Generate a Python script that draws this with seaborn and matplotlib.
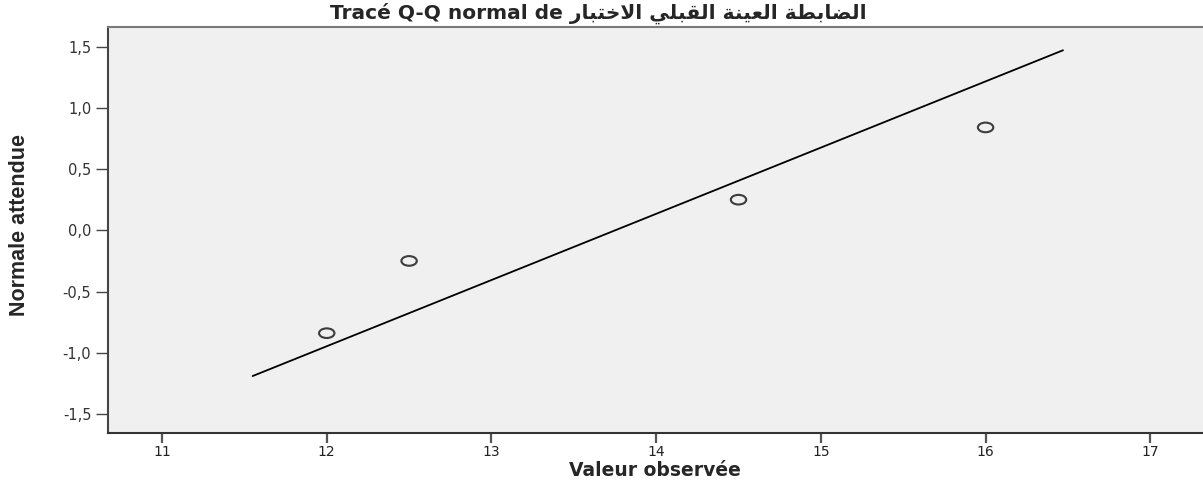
import matplotlib
matplotlib.use("Agg")
import matplotlib.pyplot as plt
from matplotlib.markers import MarkerStyle
from matplotlib.transforms import Affine2D
from matplotlib.ticker import FuncFormatter
import numpy as np
import pandas as pd
import seaborn as sns

# Q-Q data (observed value vs expected normal)
observed = [12.0, 12.5, 14.5, 16.0]
expected = [-0.84, -0.25, 0.25, 0.84]

# reference line end points
line_x = [11.55, 16.47]
line_y = [-1.19, 1.47]

x_ticks = [11, 12, 13, 14, 15, 16, 17]
y_ticks = [-1.5, -1.0, -0.5, 0.0, 0.5, 1.0, 1.5]

title_latin = "Tracé Q-Q normal de "
title_arabic = "الضابطة العينة القبلي الاختبار"
x_label = "Valeur observée"
y_label = "Normale attendue"

# isolated, final, initial, medial presentation forms
FORMS = {
    "ا": ("\uFE8D", "\uFE8E", None, None),
    "ل": ("\uFEDD", "\uFEDE", "\uFEDF", "\uFEE0"),
    "ض": ("\uFEBD", "\uFEBE", "\uFEBF", "\uFEC0"),
    "ب": ("\uFE8F", "\uFE90", "\uFE91", "\uFE92"),
    "ط": ("\uFEC1", "\uFEC2", "\uFEC3", "\uFEC4"),
    "ة": ("\uFE93", "\uFE94", None, None),
    "ع": ("\uFEC9", "\uFECA", "\uFECB", "\uFECC"),
    "ي": ("\uFEF1", "\uFEF2", "\uFEF3", "\uFEF4"),
    "ن": ("\uFEE5", "\uFEE6", "\uFEE7", "\uFEE8"),
    "ق": ("\uFED5", "\uFED6", "\uFED7", "\uFED8"),
    "خ": ("\uFEA5", "\uFEA6", "\uFEA7", "\uFEA8"),
    "ت": ("\uFE95", "\uFE96", "\uFE97", "\uFE98"),
    "ر": ("\uFEAD", "\uFEAE", None, None),
}


def shape_arabic(text: str) -> str:
    """Join letters and return them in visual (left-to-right) order"""
    out = []
    prev_joins = False
    i = 0
    while i < len(text):
        c = text[i]
        if c not in FORMS:
            out.append(c)
            prev_joins = False
            i += 1
            continue
        if c == "ل" and i + 1 < len(text) and text[i + 1] == "ا":
            out.append("\uFEFC" if prev_joins else "\uFEFB")
            prev_joins = False
            i += 2
            continue
        iso, fin, ini, med = FORMS[c]
        nxt = text[i + 1] if i + 1 < len(text) else None
        next_joins = ini is not None and nxt in FORMS
        if prev_joins and next_joins:
            out.append(med)
        elif prev_joins:
            out.append(fin)
        elif next_joins:
            out.append(ini)
        else:
            out.append(iso)
        prev_joins = next_joins
        i += 1
    return "".join(reversed(out))


df = pd.DataFrame({"observed": observed, "expected": expected})
line_df = pd.DataFrame({"x": line_x, "y": line_y})

sns.set_style("white")
plt.rcParams["font.family"] = ["DejaVu Sans"]

W, H = 1203, 484
fig = plt.figure(figsize=(W / 100, H / 100), dpi=100)
ax = fig.add_axes([108 / W, 1 - 433 / H, 1 - 108 / W, (433 - 27) / H])
ax.set_facecolor("#f0f0f0")

sns.lineplot(data=line_df, x="x", y="y", color="black", linewidth=1.3, ax=ax)

ellipse = MarkerStyle("o", transform=Affine2D().scale(1.6, 1.0))
sns.scatterplot(
    data=df, x="observed", y="expected", marker=ellipse, s=48,
    facecolor="none", edgecolor="#3c3c3c", linewidth=1.5, ax=ax, zorder=3
)

ax.set_xlim(10.672, 17.32)
ax.set_ylim(-1.655, 1.66)
ax.set_xticks(x_ticks)
ax.set_yticks(y_ticks)
ax.yaxis.set_major_formatter(
    FuncFormatter(lambda v, p: f"{v:.1f}".replace(".", ","))
)

ax.tick_params(axis="x", direction="out", length=7, width=1.6, pad=1.5,
               colors="#555555", labelcolor="#222222", labelsize=10)
ax.tick_params(axis="y", direction="out", length=9, width=1.0, pad=3,
               colors="#444444", labelcolor="#333333", labelsize=10.5)
ax.tick_params(bottom=True, left=True)

for side in ["left", "bottom", "top"]:
    ax.spines[side].set_visible(True)
    ax.spines[side].set_linewidth(1.5)
ax.spines["left"].set_color("#444444")
ax.spines["bottom"].set_color("#333333")
ax.spines["top"].set_color("#7a7a7a")
ax.spines["right"].set_visible(False)

ax.set_xlabel(x_label, fontsize=13.5, fontweight="bold")
ax.xaxis.set_label_coords((655 - 108) / (W - 108), -(461 - 433) / 406)
ax.set_ylabel("")
fig.text(20 / W, 1 - 225 / H, y_label, rotation=90, ha="center", va="center",
         fontsize=15.5, fontweight="bold",
         family=["Liberation Sans Narrow", "Liberation Sans", "DejaVu Sans"])

fig.text(598 / W, 1 - 13 / H, title_latin + shape_arabic(title_arabic),
         ha="center", va="center", fontsize=14.5, fontweight="bold")

fig.savefig("out.png", dpi=100, facecolor="white")
